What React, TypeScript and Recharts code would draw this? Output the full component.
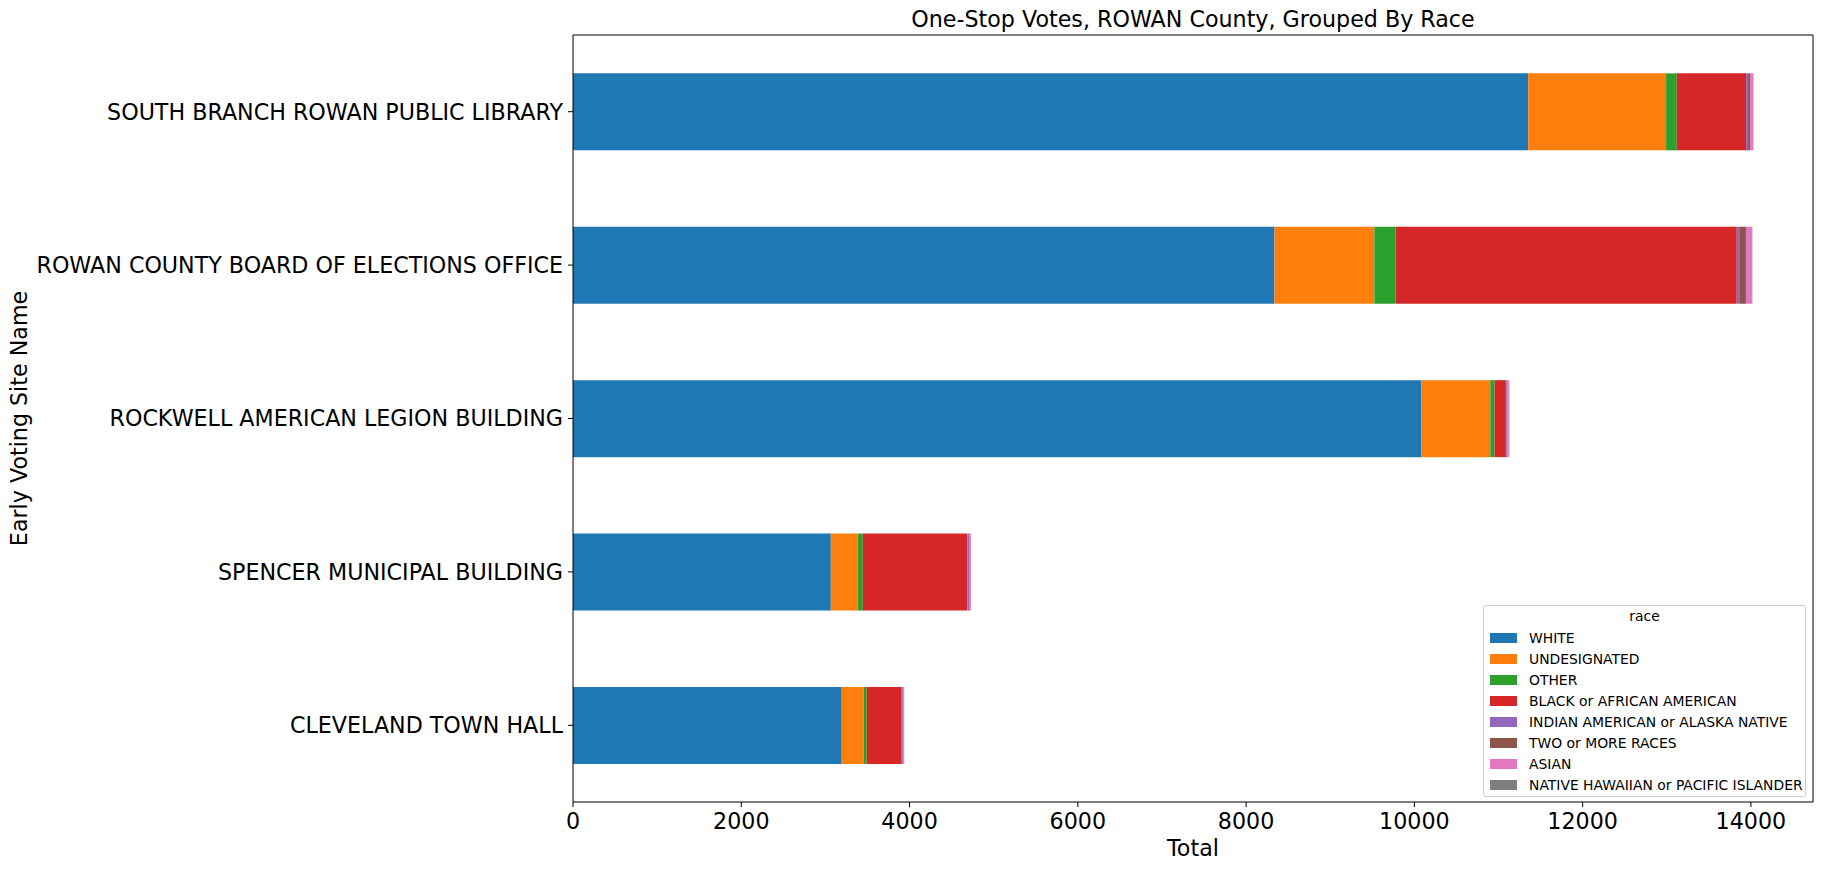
import { BarChart, Bar, XAxis, YAxis, Legend } from "recharts";

const sites = [
  "SOUTH BRANCH ROWAN PUBLIC LIBRARY",
  "ROWAN COUNTY BOARD OF ELECTIONS OFFICE",
  "ROCKWELL AMERICAN LEGION BUILDING",
  "SPENCER MUNICIPAL BUILDING",
  "CLEVELAND TOWN HALL",
];

const races = [
  "WHITE",
  "UNDESIGNATED",
  "OTHER",
  "BLACK or AFRICAN AMERICAN",
  "INDIAN AMERICAN or ALASKA NATIVE",
  "TWO or MORE RACES",
  "ASIAN",
  "NATIVE HAWAIIAN or PACIFIC ISLANDER",
];

const colors = ["#1f77b4", "#ff7f0e", "#2ca02c", "#d62728", "#9467bd", "#8c564b", "#e377c2", "#7f7f7f"];

// values per site, same order as sites
const white = [11353, 8337, 10082, 3064, 3194];
const undesignated = [1639, 1187, 820, 320, 262];
const other = [127, 252, 51, 60, 35];
const black = [823, 4056, 135, 1243, 416];
const indian = [24, 38, 10, 20, 12];
const twoOrMore = [24, 71, 8, 6, 5];
const asian = [36, 71, 20, 16, 12];
const hawaiian = [3, 5, 2, 1, 1];

const xTicks = [0, 2000, 4000, 6000, 8000, 10000, 12000, 14000];
const xMax = 14738;

const series = [white, undesignated, other, black, indian, twoOrMore, asian, hawaiian];

const data = sites.map((site, i) => {
  const row: Record<string, string | number> = { site };
  races.forEach((r, k) => {
    row[r] = series[k][i];
  });
  return row;
});

const FONT = "DejaVu Sans, sans-serif";

const TitleLabel = (props: any) => {
  const vb = props.viewBox || {};
  const cx = (vb.x ?? 573) + (vb.width ?? 1240) / 2;
  return (
    <text x={cx} y={19} textAnchor="middle" dominantBaseline="central" fontSize={22.2} fill="#000" fontFamily={FONT}>
      One-Stop Votes, ROWAN County, Grouped By Race
    </text>
  );
};

const YLabel = (props: any) => {
  const vb = props.viewBox || {};
  const cy = (vb.y ?? 35) + (vb.height ?? 767) / 2;
  return (
    <text
      x={19}
      y={cy}
      transform={`rotate(-90, 19, ${cy})`}
      textAnchor="middle"
      dominantBaseline="central"
      fontSize={22.2}
      fill="#000"
      fontFamily={FONT}
    >
      Early Voting Site Name
    </text>
  );
};

const XLabel = (props: any) => {
  const vb = props.viewBox || {};
  const cx = (vb.x ?? 573) + (vb.width ?? 1240) / 2;
  return (
    <text x={cx} y={848} textAnchor="middle" dominantBaseline="central" fontSize={22.2} fill="#000" fontFamily={FONT}>
      Total
    </text>
  );
};

const RaceLegend = () => (
  <div
    style={{
      position: "relative",
      width: 323,
      height: 192,
      boxSizing: "border-box",
      border: "1px solid #cccccc",
      borderRadius: 3,
      background: "rgba(255,255,255,0.8)",
      fontFamily: FONT,
      fontSize: 13.9,
      color: "#000",
    }}
  >
    <div style={{ position: "absolute", left: 0, width: "100%", top: 11, transform: "translateY(-50%)", textAlign: "center", lineHeight: 1 }}>
      race
    </div>
    {races.map((r, k) => (
      <div key={r} style={{ position: "absolute", left: 0, top: 32 + k * 21, transform: "translateY(-50%)", height: 16, width: "100%" }}>
        <div style={{ position: "absolute", left: 6, top: 3, width: 27, height: 10, background: colors[k] }} />
        <div style={{ position: "absolute", left: 45, top: 0, lineHeight: "16px", whiteSpace: "nowrap" }}>{r}</div>
      </div>
    ))}
  </div>
);

export default function App() {
  return (
    <div style={{ position: "absolute", left: 0, top: 0, width: 1822, height: 869, background: "#fff" }}>
      <BarChart
        width={1822}
        height={869}
        data={data}
        layout="vertical"
        margin={{ top: 0, right: 8, bottom: 0, left: 0 }}
        barCategoryGap="25%"
      >
        <XAxis
          type="number"
          domain={[0, xMax]}
          ticks={xTicks}
          allowDataOverflow
          height={67}
          tick={{ fontSize: 22.2, fill: "#000", fontFamily: FONT }}
          tickSize={5}
          tickMargin={6}
          stroke="#000"
          label={<XLabel />}
        />
        <XAxis
          xAxisId="top"
          orientation="top"
          type="number"
          domain={[0, xMax]}
          allowDataOverflow
          height={35}
          tick={false}
          tickLine={false}
          stroke="#000"
          label={<TitleLabel />}
        />
        <YAxis
          type="category"
          dataKey="site"
          width={573}
          tick={{ fontSize: 22.2, fill: "#000", fontFamily: FONT }}
          tickSize={5}
          tickMargin={5}
          stroke="#000"
          label={<YLabel />}
        />
        <YAxis yAxisId="right" orientation="right" type="category" dataKey="site" width={1} tick={false} tickLine={false} stroke="#000" />
        <Legend
          layout="vertical"
          align="center"
          verticalAlign="middle"
          wrapperStyle={{ left: 1483, top: 605, width: 323, height: 192 }}
          content={<RaceLegend />}
        />
        {races.map((r, k) => (
          <Bar key={r} dataKey={r} name={r} stackId="a" fill={colors[k]} isAnimationActive={false} />
        ))}
      </BarChart>
    </div>
  );
}
